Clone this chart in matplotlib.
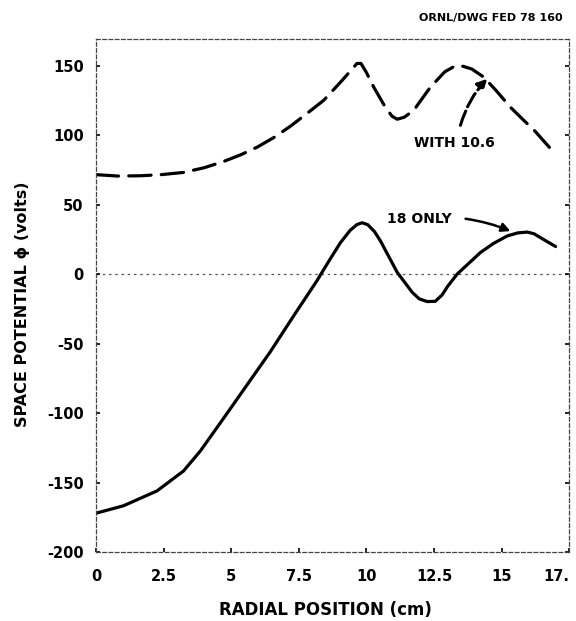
import matplotlib
matplotlib.use("Agg")
import matplotlib.pyplot as plt

# radial position (cm) and space potential (volts)
r_with = [0.0, 0.8, 1.63, 2.4, 3.23, 4.0, 4.72, 5.35, 5.95, 6.6, 7.19, 7.8, 8.42, 9.04, 9.45,
          9.65, 9.8, 10.0, 10.27, 10.7, 10.95, 11.14, 11.4, 11.75, 12.37, 12.9, 13.2, 13.48,
          13.9, 14.34, 14.8, 15.33, 15.8, 16.2, 16.88]
phi_with = [71.5, 70.5, 70.7, 71.5, 73.1, 76.5, 81.0, 85.8, 91.2, 98.5, 106.4, 115.5, 125.0,
            138.0, 147.0, 151.5, 151.5, 145.0, 134.5, 120.0, 113.5, 111.4, 112.8, 117.8, 134.5,
            145.5, 148.8, 150.0, 147.5, 141.7, 132.0, 120.0, 111.0, 103.6, 88.8]

r_only = [0.0, 1.01, 2.25, 3.23, 3.85, 4.72, 5.58, 6.44, 7.31, 8.17, 8.6, 9.04, 9.4, 9.65,
          9.84, 10.05, 10.3, 10.52, 11.14, 11.69, 11.95, 12.25, 12.55, 12.8, 13.0, 13.36,
          14.22, 14.7, 15.21, 15.6, 15.95, 16.2, 16.44, 17.0]
phi_only = [-172.0, -166.7, -156.0, -141.7, -127.4, -103.6, -79.8, -56.0, -30.0, -4.8, 9.0,
            22.6, 31.5, 35.6, 36.9, 35.5, 30.5, 23.8, 1.2, -13.0, -17.8, -19.8, -19.6, -15.0,
            -9.0, 0.0, 15.5, 22.0, 27.4, 29.6, 30.2, 29.0, 26.2, 19.8]

x_ticks = [0, 2.5, 5, 7.5, 10, 12.5, 15, 17.5]
x_labels = ["0", "2.5", "5", "7.5", "10", "12.5", "15", "17."]
y_ticks = [-200, -150, -100, -50, 0, 50, 100, 150]
y_labels = ["-200", "-150", "-100", "-50", "0", "50", "100", "150"]

plt.rcParams["font.family"] = ["DejaVu Sans"]
plt.rcParams["font.weight"] = "bold"

fig = plt.figure(figsize=(5.76, 6.21), dpi=100)
ax = fig.add_axes([0.167, 0.111, 0.821, 0.826])

ax.plot(r_with, phi_with, color="black", lw=2.3, dashes=(7, 3.2), dash_capstyle="round")
ax.plot(r_only, phi_only, color="black", lw=2.3, solid_capstyle="round")
ax.axhline(0, color="#555555", lw=0.9, ls=(0, (2, 3)), zorder=0)

ax.set_xlim(0, 17.5)
ax.set_ylim(-200, 169)
ax.set_xticks(x_ticks)
ax.set_xticklabels(x_labels)
ax.set_yticks(y_ticks)
ax.set_yticklabels(y_labels)
ax.tick_params(axis="both", direction="in", length=3, width=1.2, labelsize=10.5,
               right=True, pad=9)
ax.tick_params(axis="x", pad=12)
for t in ax.get_xticklabels() + ax.get_yticklabels():
    t.set_fontweight("bold")
ax.get_xticklabels()[-1].set_horizontalalignment("right")
for side in ("left", "right", "top", "bottom"):
    ax.spines[side].set_linestyle((0, (3, 2)))
    ax.spines[side].set_color("#444444")
    ax.spines[side].set_linewidth(0.9)

# labels and their pointer arrows
ax.text(13.25, 94, "WITH 10.6", ha="center", va="center", fontsize=10, fontweight="bold")
ax.annotate("", xy=(14.47, 140.5), xytext=(13.48, 107),
            arrowprops=dict(arrowstyle="-|>", color="black", lw=2.2,
                            linestyle=(0, (5, 1.5)), connectionstyle="arc3,rad=-0.12",
                            shrinkA=0, shrinkB=0, mutation_scale=14))
ax.text(11.95, 39.3, "18 ONLY", ha="center", va="center", fontsize=10, fontweight="bold")
ax.annotate("", xy=(15.33, 30.9), xytext=(13.67, 39.8),
            arrowprops=dict(arrowstyle="-|>", color="black", lw=1.8,
                            connectionstyle="arc3,rad=-0.06", shrinkA=0, shrinkB=0,
                            mutation_scale=13))

fig.text(0.977, 0.971, "ORNL/DWG FED 78 160", ha="right", va="center", fontsize=8,
         fontweight="bold")
fig.text(0.039, 0.51, "SPACE POTENTIAL \u03d5 (volts)", rotation=90, ha="center",
         va="center", fontsize=11.5, fontweight="bold")
fig.text(0.565, 0.017, "RADIAL POSITION (cm)", ha="center", va="center", fontsize=12,
         fontweight="bold")

fig.savefig("out.png", dpi=100)
